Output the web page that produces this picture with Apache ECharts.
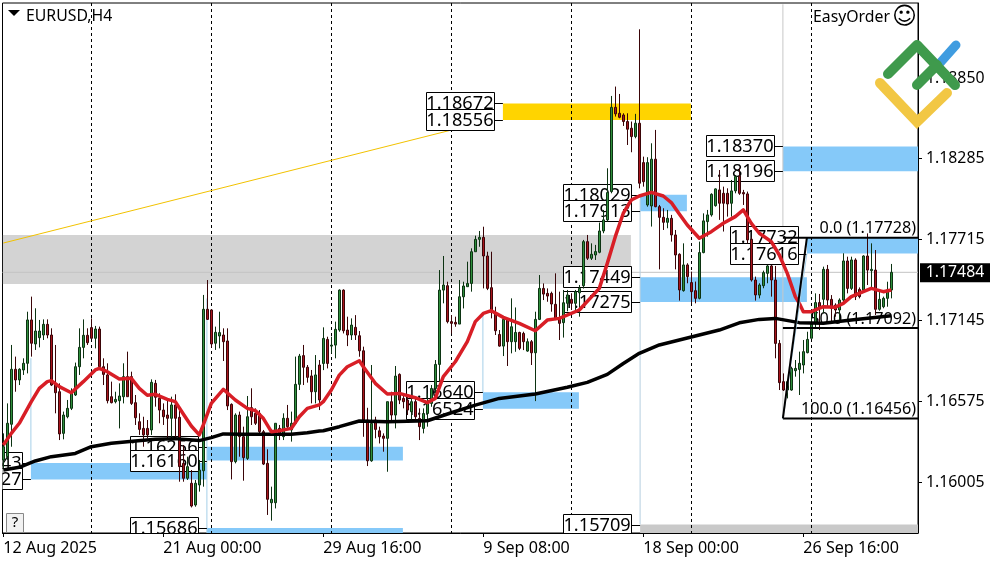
<!DOCTYPE html>
<html><head><meta charset="utf-8">
<script src="https://cdn.jsdelivr.net/npm/echarts@6/dist/echarts.min.js"></script>
<style>html,body{margin:0;padding:0;background:#fff}#c{width:1000px;height:562px}</style>
</head><body><div id="c"></div>
<script>
// Prices in points (1e-5)
const open = [
116164,116187,116415,116802,116727,116797,116844,117149,116980,117024,
117043,117118,117043,116698,116644,116351,116468,116527,116621,116820,
116956,117041,117095,117020,117085,116820,116762,116609,116574,116581,
116609,116750,116750,116567,116433,116386,116386,116375,116703,116598,
116515,116480,116457,116551,116464,116140,116035,116000,115847,115988,
116088,117224,117219,116985,117036,117043,117001,116555,116152,116480,
116328,116175,116532,116492,116492,116363,116140,115863,115863,116386,
116328,116457,116375,116422,116696,116898,116816,116755,116644,116832,
116843,117012,116965,116972,117078,117359,117078,117043,117097,117038,
116932,116445,116158,116445,116369,116332,116316,116574,116480,116766,
116597,116585,116503,116574,116456,116386,116491,116562,116667,116836,
117359,117390,117137,117132,117120,117312,117383,117406,117629,117716,
117730,117599,117376,117195,117047,116965,117153,116996,116996,117061,
117054,116930,116996,116918,117153,117371,117336,117336,117259,117160,
117130,117266,117294,117266,117340,117390,117700,117583,117606,117625,
117775,117853,118052,118645,118603,118591,118545,118498,118439,118533,
118256,117958,117951,118280,117946,117871,117836,117864,117747,117611,
117355,117536,117412,117355,117301,117623,117841,117888,117953,118064,
118040,118040,117970,118057,118162,118045,118036,117717,117430,117324,
117390,117477,117529,117430,116984,116715,116656,116656,116792,116801,
116832,116919,117020,117125,117271,117294,117505,117294,117254,117219,
117289,117564,117371,117571,117364,117360,117599,117496,117500,117224,
117242,117301,117360];
const close = [
116257,116422,116802,116727,116802,116844,117149,116985,117071,117071,
117118,117043,116691,116637,116347,116480,116527,116644,116820,116956,
117041,116989,117020,117085,116820,116766,116581,116567,116590,116614,
116750,116609,116562,116461,116379,116340,116340,116710,116605,116515,
116468,116457,116551,116457,116117,116035,116117,115840,116000,116093,
117224,117153,116980,117062,117060,116996,116544,116152,116480,116328,
116180,116468,116468,116422,116363,116135,115887,115887,116422,116351,
116457,116398,116422,116696,116895,116816,116745,116644,116762,116586,
117019,116843,116972,117083,117359,117073,117043,117113,117043,116932,
116445,116158,116421,116379,116327,116316,116574,116480,116754,116585,
116574,116515,116574,116468,116398,116491,116562,116667,116836,117359,
117395,117137,117125,117120,117312,117388,117406,117629,117716,117730,
117599,117371,117207,117073,116965,117153,116996,117101,117061,116949,
116996,116996,116918,117153,117371,117331,117317,117261,117160,117125,
117270,117325,117266,117348,117371,117700,117583,117611,117630,117775,
117853,118045,118645,118599,118575,118545,118491,118439,118533,118111,
118122,118256,118280,117946,117871,117836,117864,117747,117606,117360,
117536,117454,117348,117301,117623,117846,117888,118033,118071,117970,
117970,117965,118057,118158,118040,118036,117712,117430,117325,117395,
117482,117529,117430,116984,116708,116656,116715,116808,116808,116844,
116926,117012,117120,117271,117231,117505,117289,117231,117219,117289,
117564,117371,117571,117313,117313,117599,117500,117505,117224,117294,
117301,117360,117484];
const low = [
116105,116164,116257,116644,116691,116762,116773,116891,116938,116956,
117008,117020,116684,116492,116304,116309,116457,116515,116614,116762,
116879,116973,117013,116949,116809,116691,116562,116562,116562,116386,
116562,116609,116551,116410,116340,116257,116316,116340,116539,116422,
116410,116304,116304,116316,116011,116011,116023,115830,115835,115941,
115976,117149,116956,116938,116949,116860,116515,116027,116140,116187,
116018,116164,116410,116410,116351,116128,115777,115737,115823,116304,
116304,116375,116293,116422,116656,116691,116708,116562,116562,116515,
116796,116808,116914,116879,117066,117054,116965,117008,117008,116890,
116327,116121,116151,116316,116280,116222,116081,116433,116386,116557,
116527,116480,116445,116445,116304,116351,116398,116538,116632,116714,
117266,117125,117054,117101,117120,117230,117383,117348,117629,117664,
117371,117359,117160,117043,116961,116895,116825,116914,116925,116937,
116937,116925,116832,116578,117148,117289,117277,117207,117148,117008,
117025,117210,117219,117219,117172,117370,117571,117571,117571,117618,
117759,117841,118040,118580,118568,118514,118380,118329,118427,118075,
118087,117946,117806,117942,117505,117782,117794,117700,117505,117285,
117348,117407,117266,117266,117294,117618,117735,117876,117946,117853,
117771,117876,117876,118040,118029,117958,117688,117419,117285,117301,
117372,117407,117313,116879,116656,116649,116597,116651,116750,116621,
116773,116914,117020,117090,117078,117195,117242,117137,117172,117149,
117266,117336,117360,117289,117301,117348,117395,117360,117184,117214,
117231,117242,117301];
const high = [
116351,116562,116973,116891,116809,116879,117207,117313,117231,117149,
117153,117153,117090,116973,116703,116504,116586,116668,116849,117090,
117153,117090,117160,117107,117102,116879,116844,116715,116644,116703,
116844,116926,116785,116621,116492,116468,116445,116731,116727,116633,
116562,116586,116609,116626,116527,116269,116187,116093,116023,116164,
117325,117430,117224,117102,117207,117090,117090,116562,116492,116504,
116398,116614,116668,116527,116515,116375,116239,115976,116422,116410,
116492,116551,116504,116891,116910,116973,116832,116797,116902,116867,
117097,117031,117031,117137,117364,117364,117172,117160,117183,117071,
116961,116531,116832,116468,116398,116351,116574,116644,116825,116773,
116632,116609,116609,116609,116527,116527,116632,116691,116867,117500,
117599,117418,117183,117172,117430,117418,117559,117653,117742,117775,
117805,117629,117629,117242,117078,117172,117160,117301,117237,117066,
117066,117019,117008,117207,117465,117406,117371,117348,117477,117348,
117360,117360,117337,117360,117395,117712,117747,117688,117677,117834,
117923,118216,118725,118791,118739,118603,118603,118545,118599,119194,
118298,118294,118392,118486,117958,117935,117923,117888,117782,117618,
117688,117548,117489,117419,117700,117899,117923,118040,118075,118204,
118087,118075,118134,118169,118216,118064,118052,117735,117454,117407,
117496,117536,117536,117529,117008,116773,116726,116820,116867,116926,
117008,117066,117195,117336,117332,117524,117536,117324,117266,117301,
117618,117594,117594,117583,117378,117604,117758,117688,117641,117360,
117313,117418,117543];

const redIndex = [0,2,4,7,9,11,12,14,17,20,23,24,26,29,32,34,36,38,41,43,45,47,49,50,52,55,58,61,63,65,67,69,72,74,76,79,
 80,82,84,86,89,90,93,96,99,103,106,108,110,113,116,118,120,122,125,129,133,136,139,144,149,151,153,155,157,159,162,165,167,169,171,174,177,180,183,185,187,189,192,194,196,198,199,200,202,205,208,210,212,215,217,220,222];
const redValue = [116269,116351,116422,116574,116668,116715,116722,116680,116637,116715,116797,116809,116785,116734,116738,116668,116619,116626,116590,116574,116487,116403,116340,116410,116562,116661,116586,116527,116511,116457,116363,116370,116386,116468,116527,116551,
 116574,116656,116761,116820,116862,116820,116703,116628,116632,116602,116567,116597,116750,116855,116996,117137,117195,117214,117167,117125,117073,117148,117160,117219,117371,117547,117735,117900,117993,118021,118047,118021,117975,117895,117817,117724,117770,117829,117876,117923,117829,117759,117700,117606,117477,117313,117266,117207,117207,117242,117238,117266,117313,117348,117371,117348,117360];
const blackIndex = [0,4,8,12,18,22,27,33,38,43,49,52,55,60,66,72,76,79,80,84,89,96,106,112,118,124,133,141,146,151,155,159,164,172,179,184,189,193,199,205,212,222];
const blackValue = [116093,116112,116157,116187,116210,116257,116281,116297,116309,116314,116300,116321,116347,116344,116344,116344,116356,116368,116369,116398,116438,116433,116440,116496,116550,116597,116628,116675,116710,116766,116843,116914,116973,117029,117078,117129,117153,117160,117130,117125,117149,117179];

const tickIndex = [0,40,80,120,160,200];
const tickLabels = ['12 Aug 2025','21 Aug 00:00','29 Aug 16:00','9 Sep 08:00','18 Sep 00:00','26 Sep 16:00'];
const priceTicks = [1.16005,1.16575,1.17145,1.17715,1.18285,1.1885];
const lastPrice = 1.17484;
const weekLines = [22,52,82,112,142,172,202];

// Zones: start index, end index, upper price, lower price, kind
const zoneStart = [-0.1,124.9,194.9,159.2,200.9,159.2,119.9,50.9,6.9,50.9,159.2];
const zoneEnd   = [156.9,171.9,228.7,170.9,228.7,200.9,143.9,99.9,50.9,99.9,228.7];
const zoneHigh  = [1.17747,1.18672,1.18370,1.18029,1.17732,1.17449,1.16640,1.16256,1.16143,1.15686,1.15709];
const zoneLow   = [1.17402,1.18556,1.18196,1.17913,1.17616,1.17275,1.16524,1.16160,1.16027,1.15600,1.15600];
const zoneKind  = ['gray','gold','blue','blue','blue','blue','blue','blue','blue','blue','gray2'];
const zoneColors = {gray:'#d3d3d3',gold:'#ffd400',blue:'#85c9f9',gray2:'#c9c9c9'};

// Level tags: price and index where the leader ends
const tagPrice = [1.18672,1.18556,1.18370,1.18196,1.18029,1.17913,1.17732,1.17616,1.17449,1.17275,1.16640,1.16524,1.16256,1.16160,1.16143,1.16027,1.15686,1.15709];
const tagIndex = [124.9,124.9,194.9,194.9,159.2,159.2,200.9,200.9,159.2,159.2,119.9,119.9,50.9,50.9,6.9,6.9,50.9,159.2];

// Thin connector verticals: index, upper price, lower price, colour
const connIndex = [6.9,50.9,119.9,159.2,194.9];
const connHigh  = [1.1688,1.1730,1.1720,1.1800,1.1937];
const connLow   = [1.16143,1.1565,1.1664,1.1571,1.16456];
const connColor = ['#a5cfe8','#a5cfe8','#a5cfe8','#b5cfe0','#c8c8c8'];

const fibLevels = [1.17728,1.17092,1.16456];
const fibNames  = ['0.0','50.0','100.0'];
const fibStart = 194.9, fibEnd = 228.7, fibTopIndex = 200.9;
const trendX = [0,122], trendY = [1.1769,1.18556];

const P = v => v / 100000;
const candleData = open.map((o,i)=>[i,P(o),P(close[i]),P(low[i]),P(high[i])]);
const FONT = '"Noto Sans","Open Sans",sans-serif';

const chart = echarts.init(document.getElementById('c'),null,{renderer:'canvas'});
const option = {
 animation:false,
 backgroundColor:'#fff',
 grid:{left:2.5,top:3,width:915.5,height:530,show:true,borderColor:'#000',borderWidth:1,backgroundColor:'#fff'},
 xAxis:{type:'value',min:-0.2,max:228.675,
  axisLine:{show:true,lineStyle:{color:'#000'}},
  axisTick:{show:true,length:4,customValues:tickIndex,lineStyle:{color:'#000'}},
  axisLabel:{customValues:tickIndex,align:'left',margin:7,fontSize:16.1,fontFamily:FONT,color:'#000',
   formatter:v=>tickLabels[tickIndex.indexOf(v)]||''},
  splitLine:{show:false}},
 yAxis:{type:'value',position:'right',min:1.1565,max:1.19379,
  axisLine:{show:true,onZero:false,lineStyle:{color:'#000'}},
  axisTick:{show:true,length:4,customValues:priceTicks,lineStyle:{color:'#000'}},
  axisLabel:{customValues:priceTicks,margin:8,fontSize:15.8,fontFamily:FONT,color:'#000',formatter:v=>v.toFixed(5)},
  splitLine:{show:false}},
 series:[
  {type:'custom',z:1,silent:true,data:zoneStart.map((s,i)=>[s,zoneEnd[i],zoneHigh[i],zoneLow[i],i]),
   encode:{x:[0,1],y:[2,3]},
   renderItem(p,api){
    const a=api.coord([api.value(0),api.value(2)]),b=api.coord([api.value(1),api.value(3)]);
    const c=p.coordSys;
    const r=echarts.graphic.clipRectByRect({x:a[0],y:a[1],width:b[0]-a[0],height:b[1]-a[1]},c);
    return r&&{type:'rect',shape:r,style:{fill:zoneColors[zoneKind[api.value(4)]]}};
   }},
  {type:'custom',z:1,silent:true,data:[[lastPrice]],encode:{y:0},
   renderItem(p,api){
    const y=api.coord([0,api.value(0)])[1],c=p.coordSys;
    return {type:'group',children:[
     {type:'line',shape:{x1:c.x,y1:y,x2:c.x+c.width,y2:y},style:{stroke:'#c4c4c4',lineWidth:1}},
     {type:'rect',shape:{x:920,y:y-9,width:70,height:19},style:{fill:'#000'}},
     {type:'text',style:{x:955,y:y+0.5,text:lastPrice.toFixed(5),fill:'#fff',font:'15.8px '+FONT,align:'center',verticalAlign:'middle'}}
    ]};
   }},
  {type:'custom',z:1,silent:true,data:connIndex.map((s,i)=>[s,connHigh[i],connLow[i],i]),encode:{x:0,y:[1,2]},
   renderItem(p,api){
    const a=api.coord([api.value(0),api.value(1)]),b=api.coord([api.value(0),api.value(2)]);
    return {type:'line',shape:{x1:a[0],y1:a[1],x2:b[0],y2:b[1]},style:{stroke:connColor[api.value(3)],lineWidth:1}};
   }},
  {type:'custom',z:1.5,silent:true,data:weekLines.map(v=>[v]),encode:{x:0},
   renderItem(p,api){
    const x=Math.round(api.coord([api.value(0),1.17])[0])+0.5,c=p.coordSys;
    return {type:'line',shape:{x1:x,y1:c.y,x2:x,y2:c.y+c.height},style:{stroke:'#000',lineWidth:1,lineDash:[3,3]}};
   }},
  {type:'line',z:1.6,silent:true,symbol:'none',data:trendX.map((x,i)=>[x,trendY[i]]),lineStyle:{color:'#f2c200',width:1}},
  {type:'custom',z:2,silent:true,data:tagPrice.map((v,i)=>[tagIndex[i],v]),encode:{x:0,y:1},
   renderItem(p,api){
    const a=api.coord([api.value(0),api.value(1)]);
    const x=a[0],y=Math.round(a[1]),c=p.coordSys;
    return {type:'group',
     clipPath:{type:'rect',shape:{x:c.x,y:c.y,width:c.width,height:c.height}},
     children:[
     {type:'line',shape:{x1:x-9,y1:y+0.5,x2:x,y2:y+0.5},style:{stroke:'#000',lineWidth:1}},
     {type:'rect',shape:{x:Math.round(x-77)+0.5,y:y-10.5,width:68,height:21},style:{fill:'#fff',stroke:'#000',lineWidth:1}},
     {type:'text',style:{x:x-43,y:y+0.5,text:api.value(1).toFixed(5),fill:'#000',font:'18.2px '+FONT,align:'center',verticalAlign:'middle'}}
    ]};
   }},
  {type:'custom',z:2.5,silent:true,data:fibLevels.map((v,i)=>[v,i]),encode:{y:0},
   renderItem(p,api){
    const a=api.coord([fibStart,api.value(0)]),b=api.coord([fibEnd,api.value(0)]);
    const n=fibNames[api.value(1)];
    return {type:'text',style:{x:b[0]-2,y:a[1]-9,text:n+' ('+api.value(0).toFixed(5)+')',fill:'#000',font:'16.2px '+FONT,align:'right',verticalAlign:'middle'}};
   }},
  {type:'candlestick',z:3,silent:true,barWidth:3,data:candleData,
   itemStyle:{color:'#2f8f3c',color0:'#a8141c',borderColor:'#0c3312',borderColor0:'#3a0508',borderWidth:1}},
  {type:'line',z:4,silent:true,symbol:'none',data:blackIndex.map((x,i)=>[x,P(blackValue[i])]),lineStyle:{color:'#000',width:3.5,join:'round'}},
  {type:'line',z:5,silent:true,symbol:'none',data:redIndex.map((x,i)=>[x,P(redValue[i])]),lineStyle:{color:'#d81e26',width:3.5,join:'round'}},
  {type:'custom',z:6,silent:true,data:fibLevels.map(v=>[v]),encode:{y:0},
   renderItem(p,api){
    const a=api.coord([fibStart,api.value(0)]),b=api.coord([fibEnd,api.value(0)]);
    return {type:'line',shape:{x1:a[0],y1:a[1],x2:b[0],y2:b[1]},style:{stroke:'#000',lineWidth:2}};
   }},
  {type:'line',z:6,silent:true,symbol:'none',data:[[fibStart,fibLevels[2]],[fibTopIndex,1.17616]],lineStyle:{color:'#a5cfe8',width:1}},
  {type:'line',z:6,silent:true,symbol:'none',data:[[fibStart,fibLevels[2]],[fibTopIndex,fibLevels[0]]],lineStyle:{color:'#000',width:2}}
 ],
 graphic:[
  {type:'polygon',z:50,shape:{points:[[8,10],[20,10],[14,16]]},style:{fill:'#000'}},
  {type:'text',z:50,x:26,y:8,style:{text:'EURUSD,H4',fill:'#000',font:'15.8px '+FONT}},
  {type:'text',z:50,x:813,y:9,style:{text:'EasyOrder',fill:'#000',font:'15.8px '+FONT}},
  {type:'text',z:50,x:892,y:6,style:{text:'\u263A',fill:'#000',font:'24px "DejaVu Sans"'}},
  {type:'rect',z:50,shape:{x:6.5,y:513.5,width:17,height:19},style:{fill:'#f2f2f2',stroke:'#888',lineWidth:1}},
  {type:'text',z:51,x:15,y:515,style:{text:'?',fill:'#000',font:'15px '+FONT,align:'center'}},
  {type:'polyline',z:60,shape:{points:[[940,63],[956,45]]},style:{stroke:'#3f9ce0',lineWidth:9,lineCap:'round',fill:'none'}},
  {type:'polyline',z:61,shape:{points:[[880,83],[917,122],[947,93]]},style:{stroke:'#f2c744',lineWidth:10,lineCap:'round',lineJoin:'miter',fill:'none'}},
  {type:'polyline',z:62,shape:{points:[[888,74],[917,45],[955,85]]},style:{stroke:'#3f9a4c',lineWidth:10,lineCap:'round',lineJoin:'round',fill:'none'}},
  {type:'polyline',z:62,shape:{points:[[917,85],[937,65]]},style:{stroke:'#3f9a4c',lineWidth:10,lineCap:'round',fill:'none'}}
 ]
};
chart.setOption(option);
</script></body></html>
